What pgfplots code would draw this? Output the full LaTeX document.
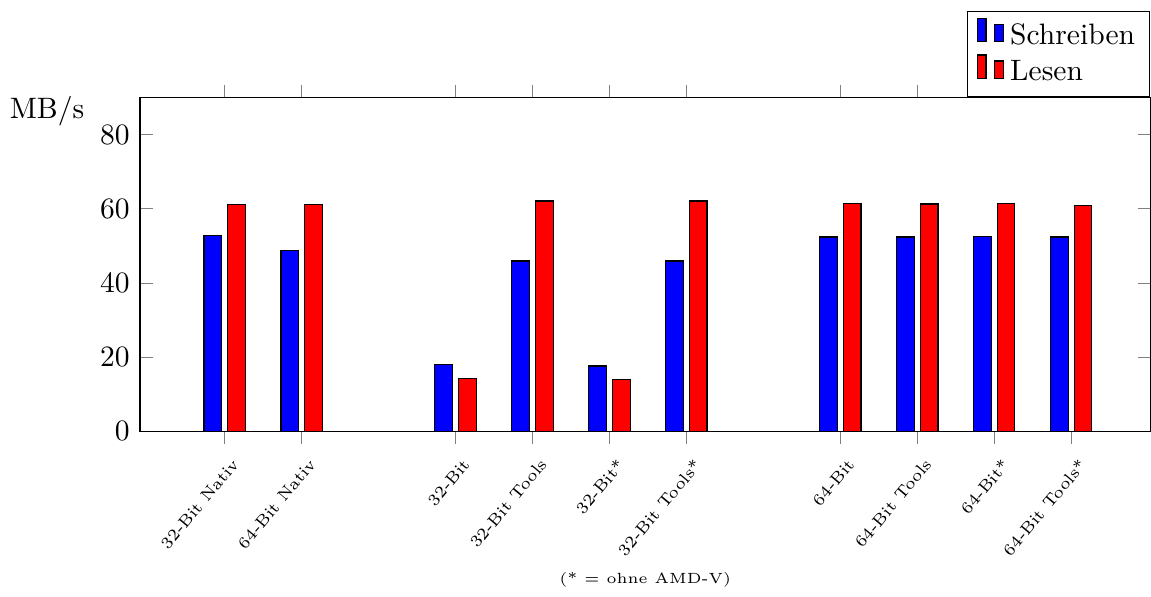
\documentclass[border=0pt]{standalone}
\usepackage{pgfplots}
\pgfplotsset{compat=1.18}
\begin{document}
\begin{tikzpicture}
\begin{axis}[
  scale only axis,
  width=342pt, height=113pt,
  ybar, bar width=6pt,
  xmin=-0.1, xmax=13.03,
  ymin=0, ymax=90,
  ytick={0,20,40,60,80},
  xtick={1,2,4,5,6,7,9,10,11,12},
  xticklabels={32-Bit Nativ,64-Bit Nativ,32-Bit,32-Bit Tools,32-Bit*,32-Bit Tools*,64-Bit,64-Bit Tools,64-Bit*,64-Bit Tools*},
  x tick label style={yshift=-3pt, xshift=2pt, rotate=50, anchor=north east, font=\fontsize{5.6pt}{6pt}\selectfont, inner sep=1pt},
  xtick align=outside,
  ytick align=inside,
  tick style={gray},
  xlabel={(* = ohne AMD-V)},
  xlabel style={font=\tiny},
  ylabel={MB/s},
  ylabel style={rotate=-90, at={(axis description cs:-0.092,0.958)}, anchor=center},
  legend style={at={(1,1)}, anchor=south east, legend cell align=left},
]
\addplot[fill=blue, draw=black] coordinates {
 (1,52.8) (2,48.8) (4,18.0) (5,45.9) (6,17.6) (7,45.9) (9,52.4) (10,52.4) (11,52.6) (12,52.4)};
\addplot[fill=red, draw=black] coordinates {
 (1,61.1) (2,61.1) (4,14.2) (5,62.1) (6,14.0) (7,62.1) (9,61.4) (10,61.3) (11,61.4) (12,60.8)};
\legend{Schreiben,Lesen}
\end{axis}
\path (current axis.north east) ++(0,33pt);
\end{tikzpicture}
\end{document}
